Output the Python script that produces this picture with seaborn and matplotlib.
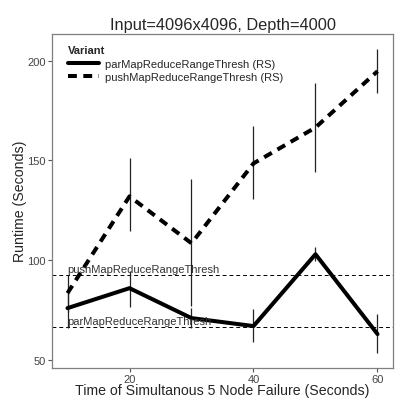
import matplotlib
matplotlib.use("Agg")
import matplotlib.pyplot as plt
import seaborn as sns
import pandas as pd

sns.set_style("white")
plt.rcParams['font.family'] = ['Liberation Sans', 'DejaVu Sans']

# Data
x_vals = [10, 20, 30, 40, 50, 60]
par_mean = [76, 86, 71, 67, 103, 63]
par_lo = [66, 76.5, 66, 59, 99.5, 53.5]
par_hi = [86, 94.5, 76, 75.5, 106.5, 73]
push_mean = [83.5, 132, 108.5, 148.5, 166.5, 194.7]
push_lo = [74, 114.5, 77, 130.5, 144, 184]
push_hi = [92.5, 151, 140.5, 167.5, 189, 206]
variants = ["parMapReduceRangeThresh (RS)", "pushMapReduceRangeThresh (RS)"]
ref_labels = ["pushMapReduceRangeThresh", "parMapReduceRangeThresh"]
ref_values = [92.5, 66.5]

df = pd.DataFrame({
    "x": x_vals * 2,
    "y": par_mean + push_mean,
    "lo": par_lo + push_lo,
    "hi": par_hi + push_hi,
    "Variant": [variants[0]] * 6 + [variants[1]] * 6,
})

fig = plt.figure(figsize=(4.01, 4.02), dpi=100)
ax = fig.add_axes([52 / 401, 33 / 402, (393 - 52) / 401, (369 - 34.5) / 402])

# error bars
ax.vlines(df["x"], df["lo"], df["hi"], color="#222222", lw=0.9, zorder=2)

sns.lineplot(data=df, x="x", y="y", hue="Variant", style="Variant",
             palette=["black", "black"],
             dashes={variants[0]: "", variants[1]: (2.2, 1.6)},
             lw=2.9, ax=ax, zorder=3, legend=True)

# reference lines
for lab, v in zip(ref_labels, ref_values):
    ax.axhline(v, color="black", lw=0.7, ls=(0, (4, 3)), zorder=1)
    ax.text(10, v + 0.6, lab, fontsize=8.0, color="#333333", ha="left", va="bottom")

ax.set_xlim(7.5, 62.5)
ax.set_ylim(46, 213.6)
ax.set_xticks([20, 40, 60])
ax.set_yticks([50, 100, 150, 200])
ax.tick_params(axis="both", which="both", direction="out", length=3, width=0.8,
               color="#555555", labelsize=8, labelcolor="#444444", pad=1.5,
               left=True, bottom=True)
for s in ax.spines.values():
    s.set_color("#7f7f7f")
    s.set_linewidth(0.9)

ax.set_xlabel("Time of Simultanous 5 Node Failure (Seconds)", fontsize=10.2, labelpad=-1)
ax.set_ylabel("Runtime (Seconds)", fontsize=10.2, labelpad=0)
ax.set_title("Input=4096x4096, Depth=4000", fontsize=11.8, pad=3)

leg = ax.legend(loc="upper left", bbox_to_anchor=(0.035, 0.978), frameon=False,
                title="Variant", fontsize=8.0, handlelength=2.8, handletextpad=0.5,
                labelspacing=0.3, borderaxespad=0, alignment="left")
leg.get_title().set_fontweight("bold")
leg.get_title().set_fontsize(8.0)
for line in leg.get_lines():
    line.set_linewidth(2.9)

fig.savefig("out.png", dpi=100)
